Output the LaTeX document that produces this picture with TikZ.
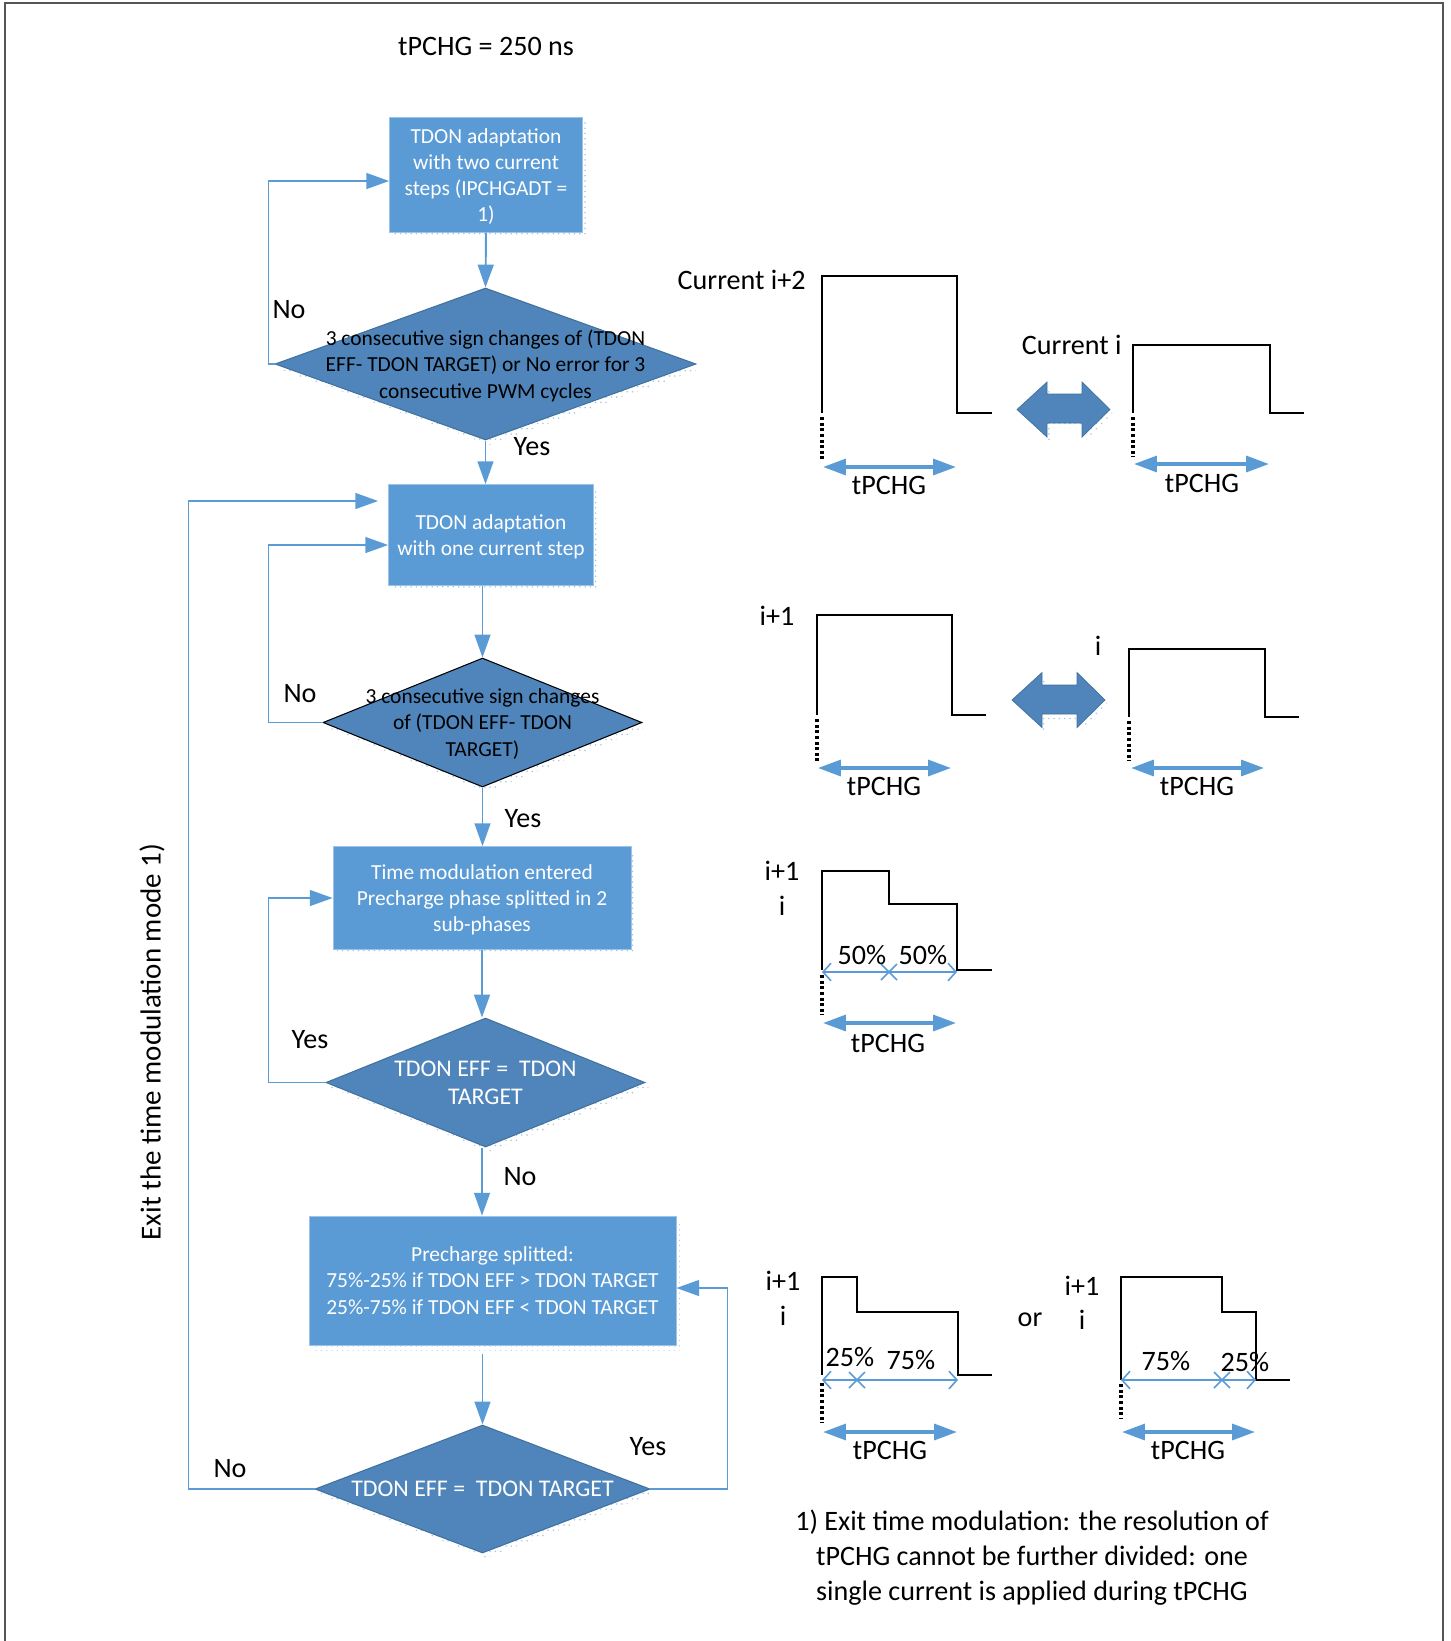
\documentclass[tikz,border=0pt]{standalone}
\usepackage{fontspec}
\setmainfont{Carlito}
\usepackage{tikz}
\usetikzlibrary{shapes.geometric,arrows.meta,shadows,patterns}
\definecolor{boxblue}{HTML}{5B9BD5}
\definecolor{diablue}{HTML}{4F85BA}
\definecolor{diaborder}{HTML}{41719C}
\definecolor{lineblue}{HTML}{5B9BD5}
\definecolor{framegray}{HTML}{555555}
\tikzset{
  halftone/.style={drop shadow={shadow xshift=0.08cm, shadow yshift=-0.1cm, opacity=0.7, pattern=dots, pattern color=lineblue!80}},
  procbox/.style={rectangle, fill=boxblue, draw=boxblue!60!white, line width=0.4pt, text=white, align=center, font=\fontsize{12.2}{14.9}\selectfont, inner sep=0pt, text depth=0pt, halftone},
  decide/.style={diamond, fill=diablue, draw=diaborder, line width=0.6pt, inner sep=0pt, halftone},
  dtext/.style={align=center, font=\fontsize{12.2}{14.9}\selectfont, inner sep=0pt, text depth=0pt},
  wtext/.style={dtext, text=white, font=\fontsize{13.6}{16}\selectfont},
  flow/.style={draw=lineblue, line width=1.1pt, -{Triangle[length=13pt,width=9pt]}},
  wave/.style={draw=black, line width=1.1pt},
  dotwave/.style={draw=black, line width=1.8pt, dash pattern=on 1.8pt off 1.4pt},
  span/.style={draw=lineblue, line width=2pt, {Triangle[length=13pt,width=9pt]}-{Triangle[length=13pt,width=9pt]}},
  split/.style={draw=lineblue, line width=0.9pt, {Straight Barb[length=4.5pt,width=10pt]}-{Straight Barb[length=4.5pt,width=10pt]}},
  cross/.style={draw=lineblue, line width=0.9pt},
  swap/.style={fill=diablue, draw=diaborder, line width=0.4pt, halftone},
}
\begin{document}
\begin{tikzpicture}[x=0.02cm, y=-0.02cm, font=\fontsize{16}{19.9}\selectfont]
\useasboundingbox (0,0) rectangle (1451,1641);
\draw[framegray, line width=1.2pt] (5,1641) -- (5,3) -- (1443,3) -- (1443,1641);

\node (title) at (486,46) {tPCHG = 250 ns};

% flow chart
\node[procbox, minimum width=3.86cm, minimum height=2.30cm] (b1) at (486,175)
  {TDON adaptation\\with two current\\steps (IPCHGADT =\\1)};
\node[decide, minimum width=8.42cm, minimum height=3.04cm] (d1) at (485.5,364) {};
\node[dtext] (d1t) at (d1) {3 consecutive sign changes of (TDON\\EFF- TDON TARGET) or No error for 3\\consecutive PWM cycles};
\node[procbox, minimum width=4.10cm, minimum height=2.02cm] (b2) at (491,535)
  {TDON adaptation\\with one current step};
\node[decide, draw=black, minimum width=6.38cm, minimum height=2.58cm] (d2) at (482.5,722.5) {};
\node[dtext] (d2t) at (d2) {3 consecutive sign changes\\of (TDON EFF- TDON\\TARGET)};
\node[procbox, minimum width=5.96cm, minimum height=2.06cm] (b3) at (482,898)
  {Time modulation entered\\Precharge phase splitted in 2\\sub-phases};
\node[decide, minimum width=6.38cm, minimum height=2.58cm] (d3) at (485.5,1082.5) {};
\node[wtext] (d3t) at (d3) {TDON EFF =\ \ TDON\\TARGET};
\node[procbox, minimum width=7.34cm, minimum height=2.58cm] (b4) at (492.5,1280.5)
  {Precharge splitted:\\75\%-25\% if TDON EFF > TDON TARGET\\25\%-75\% if TDON EFF < TDON TARGET};
\node[decide, minimum width=6.70cm, minimum height=2.56cm] (d4) at (482.5,1489) {};
\node[wtext] (d4t) at (d4) {TDON EFF =\ \ TDON TARGET};

\draw[flow] (b1.south) -- (d1.north);
\draw[flow] (d1.south) -- (d1.south |- b2.north);
\draw[flow] (d1.west) -- ++(-6,0) |- ([yshift=-0.12cm]b1.west);
\draw[flow] (d2.north |- b2.south) -- (d2.north);
\draw[flow] (d2.west) -- ++(-54,0) |- ([yshift=-0.2cm]b2.west);
\draw[flow] (d2.south) -- (d2.south |- b3.north);
\draw[flow] (b3.south) -- (b3.south |- d3.north);
\draw[flow] (d3.west) -- ++(-57,0) |- (b3.west);
\draw[flow] (d3.south -| b3.south) -- (b3.south |- b4.north);
\draw[flow, shorten <=0.18cm] (d4.north |- b4.south) -- (d4.north);
\draw[flow] (d4.east) -- ++(77,0) |- ([yshift=-0.15cm]b4.east);
\draw[flow, shorten >=0.2cm] (d4.west) -- ++(-126,0) |- ([yshift=0.68cm]b2.west);

\node (no1) at (289,310) {No};
\node (yes1) at (532,447) {Yes};
\node (no2) at (300,694) {No};
\node (yes2) at (523,819) {Yes};
\node (yes3) at (310,1040) {Yes};
\node (no3) at (520,1177) {No};
\node (yes4) at (648,1447) {Yes};
\node (no4) at (230,1469) {No};
\node[rotate=90, font=\fontsize{16.5}{19.9}\selectfont] (exitlbl) at (152,1042) {Exit the time modulation mode 1)};

% current waveforms, first row
\draw[wave] (822,413) -- (822,276) -- (957,276) -- (957,413) -- (992,413);
\draw[dotwave] (822,417) -- (822,459);
\draw[span] (823,467) -- (956,467);
\node (tp1) at (889,485) {tPCHG};
\node[anchor=east, inner sep=0pt] (cur2) at (806,280) {Current i+2};
\draw[swap] (1017,409.5) -- (1047,382) -- (1047,394) -- (1082,394) -- (1082,382) -- (1110,409.5)
  -- (1082,437) -- (1082,423) -- (1047,423) -- (1047,437) -- cycle;
\draw[wave] (1133,413) -- (1133,345) -- (1270,345) -- (1270,413) -- (1304,413);
\draw[dotwave] (1133,417) -- (1133,457);
\draw[span] (1134,464) -- (1269,464);
\node (tp2) at (1202,483) {tPCHG};
\node[anchor=east, inner sep=0pt] (cur0) at (1122,345) {Current i};

% second row
\draw[wave] (817,715) -- (817,615) -- (952,615) -- (952,715) -- (986,715);
\draw[dotwave] (817,719) -- (817,761);
\draw[span] (818,768) -- (951,768);
\node (tp3) at (884,786) {tPCHG};
\node (lvl3) at (777,616) {i+1};
\draw[swap] (1012,700) -- (1042,672.5) -- (1042,685) -- (1077,685) -- (1077,672.5) -- (1105,700)
  -- (1077,727.5) -- (1077,714) -- (1042,714) -- (1042,727.5) -- cycle;
\draw[wave] (1129,717) -- (1129,649) -- (1265,649) -- (1265,717) -- (1299,717);
\draw[dotwave] (1129,721) -- (1129,761);
\draw[span] (1131,768) -- (1264,768);
\node (tp4) at (1197,786) {tPCHG};
\node (lvl4) at (1098,646) {i};

% 50% / 50%
\draw[wave] (822,970) -- (822,871) -- (889,871) -- (889,904) -- (957,904) -- (957,970) -- (992,970);
\draw[dotwave] (822,975) -- (822,1015);
\draw[split] (822,972) -- (957,972);
\draw[cross] (881,964) -- (897,980) (881,980) -- (897,964);
\node (pc1) at (862,955) {50\%};
\node (pc2) at (923,955) {50\%};
\draw[span] (823,1023) -- (956,1023);
\node (tp5) at (888,1043) {tPCHG};
\node (lvl5a) at (782,871) {i+1};
\node (lvl5b) at (782,906) {i};

% 25% / 75%
\draw[wave] (822,1375) -- (822,1277) -- (857,1277) -- (857,1312) -- (958,1312) -- (958,1375) -- (992,1375);
\draw[dotwave] (822,1383) -- (822,1423);
\draw[split] (822,1380) -- (958,1380);
\draw[cross] (849,1372) -- (865,1388) (849,1388) -- (865,1372);
\node (pc3) at (850,1357) {25\%};
\node (pc4) at (911,1360) {75\%};
\draw[span] (823,1432) -- (957,1432);
\node (tp6) at (890,1450) {tPCHG};
\node (lvl6a) at (783,1281) {i+1};
\node (lvl6b) at (783,1316) {i};
\node (orlbl) at (1030,1320) {or};

% 75% / 25%
\draw[wave] (1121,1380) -- (1121,1277) -- (1222,1277) -- (1222,1312) -- (1256,1312) -- (1256,1380) -- (1290,1380);
\draw[dotwave] (1121,1384) -- (1121,1419);
\draw[split] (1121,1380) -- (1256,1380);
\draw[cross] (1214,1372) -- (1230,1388) (1214,1388) -- (1230,1372);
\node (pc5) at (1166,1361) {75\%};
\node (pc6) at (1245,1362) {25\%};
\draw[span] (1122,1432) -- (1255,1432);
\node (tp7) at (1188,1450) {tPCHG};
\node (lvl7a) at (1082,1286) {i+1};
\node (lvl7b) at (1082,1320) {i};

\node[align=center] (note) at (1032,1558) {1) Exit time modulation: the resolution of\\tPCHG cannot be further divided: one\\single current is applied during tPCHG};
\end{tikzpicture}
\end{document}
